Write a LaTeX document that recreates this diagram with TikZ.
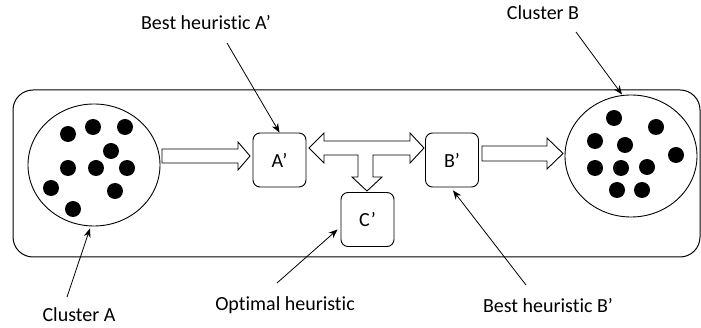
\documentclass[tikz,border=0pt]{standalone}
\usepackage{fontspec}
\setmainfont{Carlito}[Ligatures=NoCommon]
\usetikzlibrary{shapes.geometric,arrows.meta,calc}
\begin{document}
\begin{tikzpicture}[x=1pt,y=-1pt,
  every node/.style={font=\fontsize{20}{24}\selectfont},
  frame/.style={draw,line width=1pt,rounded corners=20pt},
  cluster/.style={draw,ellipse,line width=0.9pt,minimum width=132pt,minimum height=122pt,inner sep=0pt},
  dot/.style={fill=black},
  hbox/.style={draw,line width=0.9pt,rounded corners=7pt,minimum width=53pt,minimum height=54pt,inner sep=0pt},
  block/.style={draw,line width=0.9pt,fill=white,line join=miter},
  pointer/.style={line width=0.8pt,-{Stealth[length=9pt,width=7pt]}},
  label/.style={inner sep=0pt}]
\useasboundingbox (0,0) rectangle (701,328);

% outer frame
\draw[frame] (13,90) rectangle (700,257);

% clusters
\node[cluster] (ca) at (94,165) {};
\node[cluster] (cb) at (631,156) {};
\foreach \p in {(68,134),(93,127),(125,127),(111,151),(68,168),(96,168),(127,168),(51,188),(115,191),(73,209)}
  \fill[dot] \p circle (8pt);
\foreach \p in {(614,118),(656,127),(595,141),(625,145),(676,155),(595,168),(621,168),(647,167),(617,190),(642,190)}
  \fill[dot] \p circle (8pt);

% heuristic boxes
\node[hbox] (Ap) at (279.5,160) {A’};
\node[hbox] (Bp) at (452,160) {B’};
\node[hbox] (Cp) at (367.5,219.5) {C’};

% block arrows
\draw[block] (162,149) -- (238,149) -- (238,142) -- (250,156) -- (238,170) -- (238,163) -- (162,163) -- cycle;
\draw[block] (482,146) -- (547,146) -- (547,138) -- (563,153.5) -- (547,169) -- (547,161) -- (482,161) -- cycle;
\draw[block] (309,148) -- (324,133) -- (324,141) -- (410,141) -- (410,133) -- (424,148)
  -- (410,163) -- (410,155) -- (373,155) -- (373,177) -- (382,177) -- (367,191)
  -- (352,177) -- (358,177) -- (358,155) -- (324,155) -- (324,163) -- cycle;

% labels
\node[label] (lA)  at (206,23)  {Best heuristic A’};
\node[label] (lB)  at (543,13)  {Cluster B};
\node[label] (lca) at (79,315)  {Cluster A};
\node[label] (lo)  at (285,305) {Optimal heuristic};
\node[label] (lBp) at (548,306) {Best heuristic B’};

% pointers
\coordinate (tA)  at (227,43);
\coordinate (tB)  at (576,32);
\coordinate (tca) at (67,297);
\coordinate (to)  at (277,283);
\coordinate (tBp) at (526,285);
\draw[pointer] (tA) -- (Ap.north);
\draw[pointer] (tB) -- ($(cb.north)+(-9,0)$);
\draw[pointer] (tca) -- ($(ca.south)+(-4,2)$);
\draw[pointer] (to) -- ($(Cp.west)+(-3,10)$);
\draw[pointer] (tBp) -- ($(Bp.south)+(1,3)$);
\end{tikzpicture}
\end{document}
